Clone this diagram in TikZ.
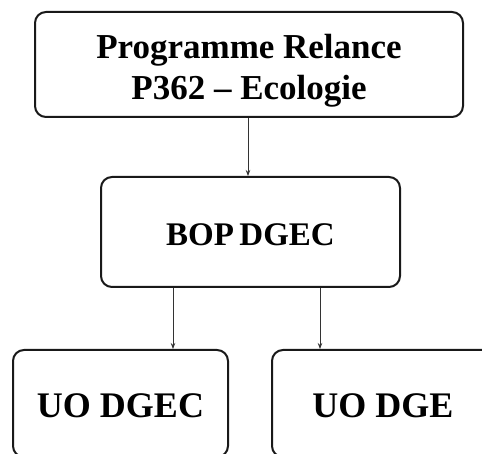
\documentclass[tikz,border=0pt]{standalone}
\usepackage{fontspec}
\setmainfont{Liberation Serif}
\usetikzlibrary{arrows.meta}
\tikzset{
  box/.style={draw=black!90, line width=2pt, rounded corners=11pt, inner sep=0pt,
    font=\fontsize{35}{40}\selectfont\bfseries, align=center},
  link/.style={draw=black!80, line width=0.8pt, -{Stealth[length=6pt,width=4.5pt]}},
}
\begin{document}
\begin{tikzpicture}[x=1pt,y=-1pt]
\useasboundingbox (0,0) rectangle (482,454);
\clip (0,0) rectangle (482,454);
\node[box, minimum width=428pt, minimum height=105pt] (top) at (249,64.5)
  {\raisebox{-7pt}[\height][\depth]{\begin{tabular}{@{}c@{}}Programme Relance\\[1pt] P362 -- Ecologie\end{tabular}}};
\node[box, minimum width=299pt, minimum height=110pt] (mid) at (250.5,232)
  {\raisebox{-3pt}[\height][\depth]{\fontsize{33}{40}\selectfont BOP\,DGEC}};
\node[box, minimum width=215pt, minimum height=107pt] (left) at (120.5,403.5)
  {\raisebox{-2pt}[\height][\depth]{\fontsize{36}{40}\selectfont UO DGEC}};
\node[box, minimum width=222pt, minimum height=107pt] (right) at (383,403.5)
  {\raisebox{-2pt}[\height][\depth]{\fontsize{36}{40}\selectfont UO DGE}};
\draw[link] (top.south -| 248,0) -- (mid.north -| 248,0);
\draw[link] (mid.south -| 173,0) -- (left.north -| 173,0);
\draw[link] (mid.south -| 320,0) -- (right.north -| 320,0);
\end{tikzpicture}
\end{document}
